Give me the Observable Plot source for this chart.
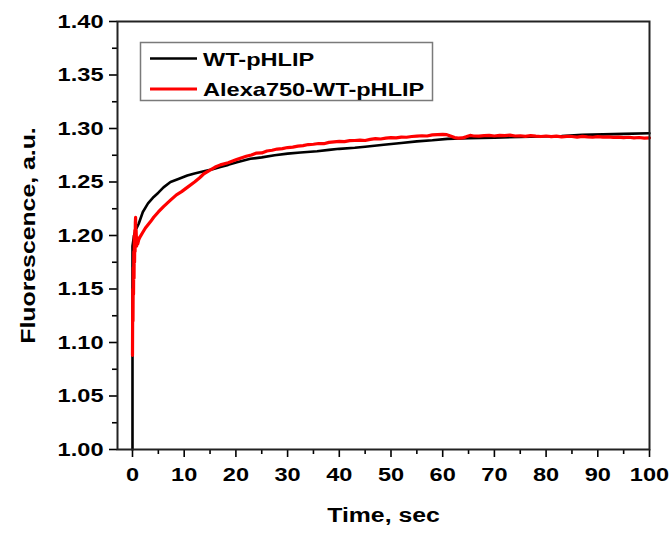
<!DOCTYPE html>
<html>
<head>
<meta charset="utf-8">
<script src="https://cdn.jsdelivr.net/npm/d3@7"></script>
<script src="https://cdn.jsdelivr.net/npm/@observablehq/plot@0.6"></script>
<style>
  html, body { margin: 0; padding: 0; background: #fff; }
  #wrap { position: relative; width: 672px; height: 533px; }
  #legend { position: absolute; left: 0; top: 0; }
</style>
</head>
<body>
<div id="wrap"></div>
<script>
// ---- data ----
const seriesNames = ["WT-pHLIP", "Alexa750-WT-pHLIP"];
const seriesColors = ["#000000", "#ff0000"];

const tBlack = [0, 0, 0.3, 0.6, 1.2, 2, 3, 4.1, 5, 6, 7.35, 9, 10.6, 12, 13.8, 15.5, 17, 18.5, 20.2, 22.8, 25, 27.5, 30, 32.5, 35.7, 38, 40, 43, 45, 48.6, 52, 55, 58, 60.9, 65, 70, 75, 78.9, 83, 87, 91, 95, 100];
const fBlack = [1.000, 1.190, 1.200, 1.205, 1.211, 1.222, 1.230, 1.236, 1.240, 1.245, 1.250, 1.253, 1.256, 1.258, 1.260, 1.262, 1.264, 1.266, 1.2685, 1.2717, 1.273, 1.275, 1.2765, 1.2775, 1.2788, 1.280, 1.281, 1.282, 1.283, 1.2848, 1.2865, 1.288, 1.289, 1.2903, 1.291, 1.2915, 1.292, 1.2925, 1.293, 1.294, 1.2945, 1.295, 1.2956];

const tRed = [0, 0.05, 0.1, 0.15, 0.2, 0.25, 0.3, 0.35, 0.4, 0.45, 0.5, 0.55, 0.6, 0.65, 0.7, 0.8, 0.9, 1.0, 1.2, 1.5, 2, 2.5, 3, 3.5, 4.1, 5, 6, 7.35, 8.5, 9.5, 10.6, 12, 13, 13.8, 15, 16, 17, 18.5,
  20, 21, 22, 23, 24, 25, 26, 27, 28, 29, 30, 31, 32, 33, 34, 35, 36, 37, 38, 39, 40, 41, 42, 43, 44, 45, 46, 47, 48, 49, 50, 51, 52, 53, 54, 55, 56, 57, 58, 59, 60, 60.8, 61.5, 62.3, 63, 63.8, 64.5, 65.3, 66, 67, 68, 69, 70, 71, 72, 73, 74, 75, 76, 77, 78, 79, 80, 81, 82, 83, 84, 85, 86, 87, 88, 89, 90, 91, 92, 93, 94, 95, 96, 97, 98, 99, 100];
const fRed = [1.088, 1.150, 1.120, 1.170, 1.145, 1.185, 1.160, 1.200, 1.175, 1.205, 1.185, 1.212, 1.217, 1.195, 1.205, 1.190, 1.198, 1.192, 1.196, 1.199, 1.203, 1.207, 1.210, 1.213, 1.217, 1.222, 1.227, 1.233, 1.238, 1.241, 1.245, 1.250, 1.254, 1.2577, 1.261, 1.264, 1.266, 1.268,
  1.2707, 1.2725, 1.2740, 1.2752, 1.2770, 1.2772, 1.2790, 1.2797, 1.2808, 1.2812, 1.2822, 1.2826, 1.2835, 1.2840, 1.2850, 1.2853, 1.2860, 1.2858, 1.2870, 1.2875, 1.2880, 1.2878, 1.2886, 1.2888, 1.2892, 1.2888, 1.2898, 1.2905, 1.2902, 1.2910, 1.2915, 1.2912, 1.2920, 1.2918, 1.2925, 1.2928, 1.2932, 1.2930, 1.2940, 1.2942, 1.2945, 1.2942, 1.2930, 1.2915, 1.2910, 1.2912, 1.2922, 1.2935, 1.2930, 1.2928, 1.2934, 1.2936, 1.2930, 1.2935, 1.2933, 1.2938, 1.2930, 1.2932, 1.2926, 1.2933, 1.2928, 1.2925, 1.2930, 1.2924, 1.2928, 1.2922, 1.2927, 1.2925, 1.2920, 1.2926, 1.2921, 1.2918, 1.2924, 1.2919, 1.2922, 1.2917, 1.2920, 1.2914, 1.2918, 1.2913, 1.2916, 1.2910, 1.2913];

const xTicks = [0, 10, 20, 30, 40, 50, 60, 70, 80, 90, 100];
const xMinorTicks = [5, 15, 25, 35, 45, 55, 65, 75, 85, 95];
const yTicks = [1.00, 1.05, 1.10, 1.15, 1.20, 1.25, 1.30, 1.35, 1.40];
const yMinorTicks = [1.025, 1.075, 1.125, 1.175, 1.225, 1.275, 1.325, 1.375];
const xLabel = "Time, sec";
const yLabel = "Fluorescence, a.u.";

// ---- build table ----
const rows = [
  ...tBlack.map((t, i) => ({t, f: fBlack[i], s: seriesNames[0]})),
  ...tRed.map((t, i) => ({t, f: fRed[i], s: seriesNames[1]}))
];

const chart = Plot.plot({
  width: 672,
  height: 533,
  marginLeft: 117,
  marginRight: 23,
  marginTop: 21,
  marginBottom: 84,
  style: {fontFamily: "'Liberation Sans', Arial, sans-serif", fontWeight: "bold", fontSize: "19px", color: "#000", background: "#fff"},
  x: {domain: [-2.9, 100]},
  y: {domain: [1.0, 1.4]},
  color: {domain: seriesNames, range: seriesColors},
  marks: [
    Plot.axisX(xMinorTicks, {tickSize: 5, text: null, strokeWidth: 1.6, label: null}),
    Plot.axisX(xTicks, {tickSize: 8, tickPadding: 10, strokeWidth: 1.6, label: null, tickFormat: d => String(d)}),
    Plot.axisY(yMinorTicks, {tickSize: 5, text: null, strokeWidth: 1.6, label: null}),
    Plot.axisY(yTicks, {tickSize: 8, tickPadding: 6, strokeWidth: 1.6, label: null, tickFormat: d3.format(".2f")}),
    Plot.line(rows.filter(d => d.s === seriesNames[0]), {x: "t", y: "f", stroke: "s", strokeWidth: 2.6}),
    Plot.line(rows.filter(d => d.s === seriesNames[1]), {x: "t", y: "f", stroke: "s", strokeWidth: 3.2}),
    Plot.frame({stroke: "#222", strokeWidth: 2}),
    Plot.text([xLabel], {frameAnchor: "bottom", dy: 66, textAnchor: "middle", lineAnchor: "middle", fontSize: 20, fontWeight: "bold"}),
    Plot.text([yLabel], {frameAnchor: "left", dx: -89, rotate: -90, textAnchor: "middle", lineAnchor: "middle", fontSize: 20, fontWeight: "bold"})
  ]
});

const wrap = document.getElementById("wrap");
wrap.append(chart);

// ---- legend (inset box) ----
const lg = d3.select(wrap).append("svg").attr("id", "legend")
  .attr("width", 672).attr("height", 533)
  .style("font-family", "'Liberation Sans', Arial, sans-serif")
  .style("font-weight", "bold").style("font-size", "19px");
lg.append("rect").attr("x", 140.5).attr("y", 42.5).attr("width", 292).attr("height", 58)
  .attr("fill", "#fff").attr("stroke", "#7a7a7a").attr("stroke-width", 1.5);
const rowsL = lg.selectAll("g.item").data(seriesNames).join("g").attr("class", "item")
  .attr("transform", (d, i) => `translate(150, ${58.5 + i * 30.5})`);
rowsL.append("line").attr("x1", 0).attr("x2", 47).attr("y1", 0).attr("y2", 0)
  .attr("stroke", (d, i) => seriesColors[i]).attr("stroke-width", (d, i) => i ? 3.2 : 2.6);
rowsL.append("text").attr("x", 53).attr("y", 7).text(d => d).attr("fill", "#000");

// widen the glyphs to match the wide lettering of the original
const STRETCH = 1.24;
document.querySelectorAll("#wrap svg text").forEach(t => {
  const L = t.getComputedTextLength();
  if (L > 0) {
    t.setAttribute("textLength", (L * STRETCH).toFixed(1));
    t.setAttribute("lengthAdjust", "spacingAndGlyphs");
  }
});
</script>
</body>
</html>
